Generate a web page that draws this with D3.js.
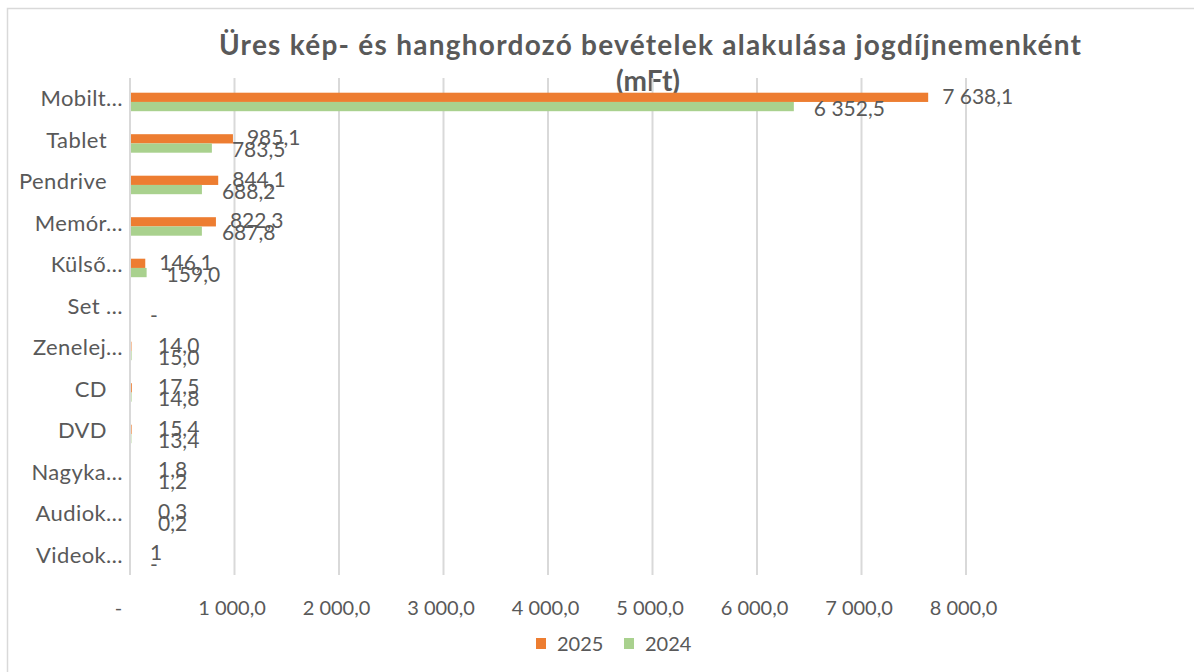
<!DOCTYPE html>
<html>
<head>
<meta charset="utf-8">
<script src="https://cdn.jsdelivr.net/npm/d3@7"></script>
<style>
  body { margin: 0; background: #fff; }
  svg { font-family: Lato, "Open Sans", sans-serif; }
  .txt { fill: #595959; }
</style>
</head>
<body>
<div id="chart"></div>
<script>
var width = 1194,
    height = 672;

// chart data
var categories = ["Mobilt…", "Tablet", "Pendrive", "Memór…", "Külső…", "Set …",
                  "Zenelej…", "CD", "DVD", "Nagyka…", "Audiok…", "Videok…"];
var series = ["2025", "2024"];
var values2025 = [7638.1, 985.1, 844.1, 822.3, 146.1, null, 14.0, 17.5, 15.4, 1.8, 0.3, 1];
var values2024 = [6352.5, 783.5, 688.2, 687.8, 159.0, 0, 15.0, 14.8, 13.4, 1.2, 0.2, 0];
var labels2025 = ["7 638,1", "985,1", "844,1", "822,3", "146,1", null, "14,0", "17,5", "15,4", "1,8", "0,3", "1"];
var labels2024 = ["6 352,5", "783,5", "688,2", "687,8", "159,0", "-", "15,0", "14,8", "13,4", "1,2", "0,2", "-"];
var xTicks = [0, 1000, 2000, 3000, 4000, 5000, 6000, 7000, 8000];

var colors = { "2025": "#ED7D31", "2024": "#A9D18E" };

var svg = d3.select("#chart").append("svg")
    .attr("width", width)
    .attr("height", height);

// chart border
svg.append("rect")
    .attr("x", 7.5).attr("y", 8.5)
    .attr("width", 1200).attr("height", 700)
    .attr("fill", "#fff")
    .attr("stroke", "#D9D9D9")
    .attr("stroke-width", 1.5);

var x = d3.scaleLinear()
    .domain([0, 8000])
    .range([130, 966]);

var y = d3.scaleBand()
    .domain(categories)
    .range([78, 576]);

var y1 = d3.scaleBand()
    .domain(series)
    .range([14.7, 33.2]);

// title
var title = svg.append("text")
    .attr("class", "txt")
    .attr("text-anchor", "middle")
    .attr("font-weight", "bold")
    .attr("font-size", 28);
title.append("tspan").attr("x", 650).attr("y", 55)
    .attr("textLength", 862)
    .attr("lengthAdjust", "spacing")
    .text("Üres kép- és hanghordozó bevételek alakulása jogdíjnemenként");
title.append("tspan").attr("x", 648).attr("y", 91)
    .text("(mFt)");

// gridlines
svg.append("g").selectAll("line")
    .data(xTicks)
  .enter().append("line")
    .attr("x1", function(d) { return x(d); })
    .attr("x2", function(d) { return x(d); })
    .attr("y1", 78)
    .attr("y2", 575)
    .attr("stroke", "#D9D9D9")
    .attr("stroke-width", 2);

// x axis labels
var fmt = function(d) {
  if (d === 0) return "-";
  return d3.format(",.1f")(d).replace(/,/g, " ").replace(".", ",");
};
var xAxis = svg.append("g")
    .attr("transform", "translate(0,598)")
    .call(d3.axisBottom(x).tickValues(xTicks).tickFormat(fmt).tickSize(0));
xAxis.select(".domain").remove();
xAxis.selectAll("text")
    .attr("class", "txt")
    .attr("font-family", "Lato, sans-serif")
    .attr("font-size", 20)
    .attr("dx", function(d) { return d === 0 ? -12 : -3; });

// category labels (truncated ones run a bit further right, as in Excel)
svg.append("g").selectAll("text")
    .data(categories)
  .enter().append("text")
    .attr("class", "txt")
    .attr("x", function(d) { return d.slice(-1) === "…" ? 123 : 107; })
    .attr("y", function(d) { return y(d) + y.bandwidth() / 2; })
    .attr("dy", "0.35em")
    .attr("text-anchor", "end")
    .attr("font-size", 22)
    .attr("letter-spacing", 0.4)
    .text(function(d) { return d; });

// bars
var rows = categories.map(function(c, i) {
  return [
    { cat: c, key: "2025", value: values2025[i], label: labels2025[i], pad: 14, dy: -1 },
    { cat: c, key: "2024", value: values2024[i], label: labels2024[i], pad: 20, dy: 2 }
  ];
});

var group = svg.append("g").selectAll("g")
    .data(rows)
  .enter().append("g")
    .attr("transform", function(d) { return "translate(0," + y(d[0].cat) + ")"; });

group.selectAll("rect")
    .data(function(d) { return d.filter(function(e) { return e.value; }); })
  .enter().append("rect")
    .attr("x", x(0) + 1)
    .attr("y", function(d) { return y1(d.key); })
    .attr("width", function(d) { return Math.max(0, x(d.value) - x(0) - 1); })
    .attr("height", y1.bandwidth())
    .attr("fill", function(d) { return colors[d.key]; });

// data labels
group.selectAll("text")
    .data(function(d) { return d.filter(function(e) { return e.label; }); })
  .enter().append("text")
    .attr("class", "txt")
    .attr("x", function(d) {
      var min = d.label.length < 2 ? 20 : 28;
      return Math.max(x(d.value || 0) + d.pad, x(0) + min);
    })
    .attr("y", function(d) { return y1(d.key) + y1.bandwidth() / 2 + d.dy; })
    .attr("dy", "0.35em")
    .attr("font-size", 21)
    .text(function(d) { return d.label; });

// legend
var legend = svg.append("g").selectAll("g")
    .data(series)
  .enter().append("g")
    .attr("transform", function(d, i) { return "translate(" + (536 + i * 88) + ",638)"; });
legend.append("rect")
    .attr("width", 10)
    .attr("height", 11)
    .attr("fill", function(d) { return colors[d]; });
legend.append("text")
    .attr("class", "txt")
    .attr("x", 21)
    .attr("y", 5.5)
    .attr("dy", "0.35em")
    .attr("font-size", 20)
    .text(function(d) { return d; });
</script>
</body>
</html>
